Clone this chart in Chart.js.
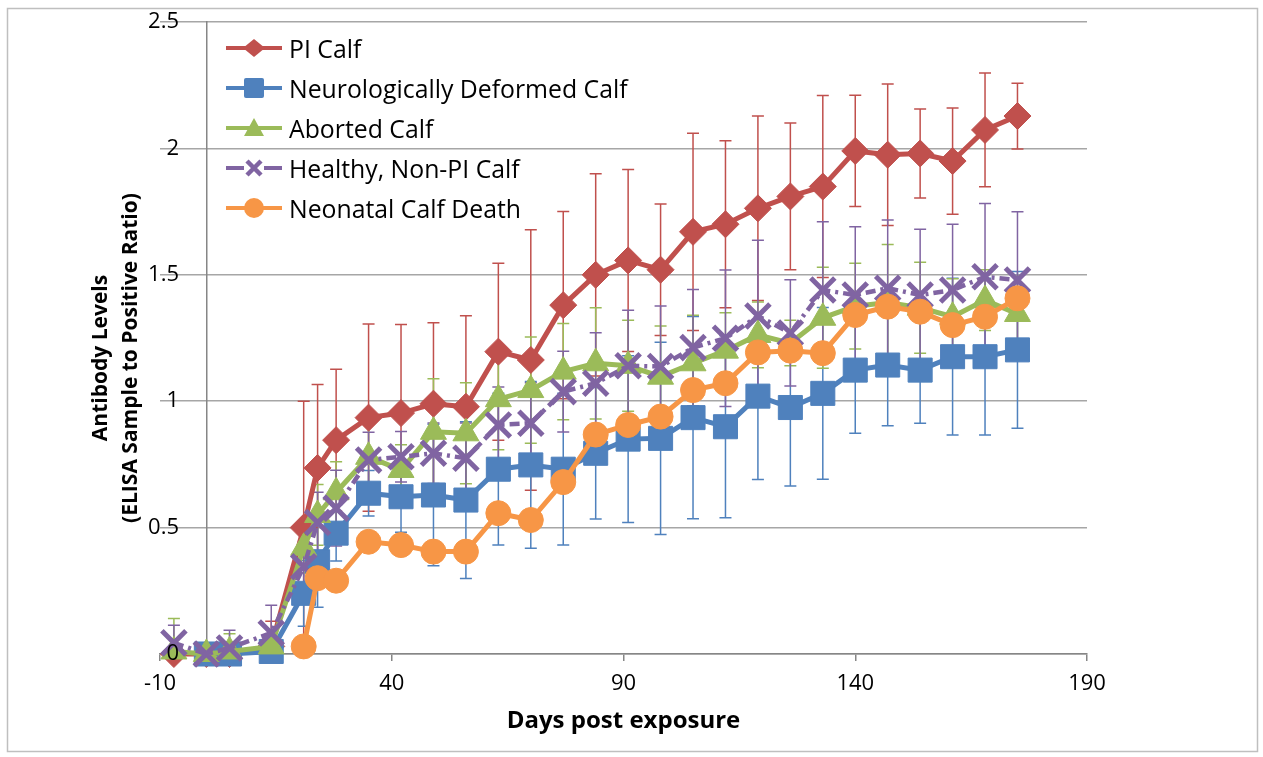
<!DOCTYPE html>
<html>
<head>
<meta charset="utf-8">
<script src="https://cdn.jsdelivr.net/npm/chart.js@4.4.1/dist/chart.umd.min.js"></script>
<style>
  html, body { margin: 0; padding: 0; background: #fff; }
  #wrap { position: relative; width: 1263px; height: 757px; }
  #legend { position: absolute; left: 224px; top: 28px; font-family: "Open Sans", sans-serif; font-size: 24.8px; color: #000; }
  .item { display: flex; align-items: center; height: 40px; white-space: nowrap; }
  .item svg { width: 60px; height: 30px; margin-right: 5px; }
</style>
</head>
<body>
<div id="wrap">
  <canvas id="chart"></canvas>
  <div id="legend"></div>
</div>
<script>
  // Sampling days (x values)
  const days = [-7, 0, 5, 14, 21, 24, 28, 35, 42, 49, 56, 63, 70, 77, 84, 91, 98, 105, 112, 119, 126, 133, 140, 147, 154, 161, 168, 175];

  // Series labels
  const seriesNames = ['PI Calf', 'Neurologically Deformed Calf', 'Aborted Calf', 'Healthy, Non-PI Calf', 'Neonatal Calf Death'];

  // Mean antibody levels (S/P ratio)
  const piCalf = [0, 0, 0, 0.03, 0.50, 0.736, 0.846, 0.935, 0.953, 0.99, 0.978, 1.196, 1.163, 1.38, 1.50, 1.557, 1.52, 1.67, 1.70, 1.763, 1.81, 1.849, 1.99, 1.975, 1.98, 1.95, 2.073, 2.128];
  const neuroCalf = [null, 0, 0, 0.01, 0.24, 0.365, 0.478, 0.636, 0.622, 0.629, 0.609, 0.731, 0.748, 0.731, 0.794, 0.85, 0.853, 0.935, 0.899, 1.02, 0.975, 1.031, 1.123, 1.143, 1.123, 1.176, 1.176, 1.203];
  const abortedCalf = [0.01, 0, 0.01, 0.03, 0.42, 0.55, 0.64, 0.78, 0.728, 0.879, 0.873, 1.008, 1.044, 1.117, 1.15, 1.14, 1.097, 1.15, 1.20, 1.262, 1.23, 1.33, 1.376, 1.39, 1.37, 1.334, 1.40, 1.345];
  const healthyCalf = [0.044, 0, 0.024, 0.083, 0.345, 0.52, 0.577, 0.767, 0.78, 0.794, 0.774, 0.906, 0.913, 1.038, 1.071, 1.14, 1.137, 1.212, 1.249, 1.337, 1.27, 1.44, 1.42, 1.447, 1.42, 1.44, 1.492, 1.479];
  const neonatalDeath = [null, null, null, null, 0.03, 0.30, 0.29, 0.444, 0.431, 0.405, 0.405, 0.557, 0.53, 0.68, 0.868, 0.906, 0.939, 1.044, 1.071, 1.193, 1.20, 1.19, 1.341, 1.374, 1.354, 1.301, 1.334, 1.407];

  // Error bar half-lengths (+/-)
  const piErr = [0, 0.04, 0.02, 0.10, 0.50, 0.33, 0.28, 0.37, 0.35, 0.32, 0.36, 0.35, 0.515, 0.37, 0.40, 0.36, 0.26, 0.39, 0.33, 0.365, 0.29, 0.36, 0.22, 0.28, 0.176, 0.21, 0.225, 0.13];
  const neuroErr = [0, 0.04, 0.02, 0.03, 0.13, 0.18, 0.11, 0.09, 0.14, 0.28, 0.31, 0.30, 0.33, 0.30, 0.26, 0.33, 0.38, 0.40, 0.36, 0.33, 0.31, 0.34, 0.25, 0.24, 0.21, 0.31, 0.31, 0.31];
  const abortedErr = [0.13, 0.02, 0.07, 0.04, 0.10, 0.12, 0.12, 0.17, 0.10, 0.21, 0.20, 0.20, 0.21, 0.19, 0.22, 0.18, 0.20, 0.19, 0.15, 0.13, 0.09, 0.20, 0.17, 0.23, 0.18, 0.15, 0.12, 0.15];
  const healthyErr = [0.07, 0.04, 0.07, 0.11, 0.10, 0.12, 0.15, 0.11, 0.10, 0.12, 0.14, 0.15, 0.16, 0.16, 0.20, 0.22, 0.24, 0.23, 0.27, 0.30, 0.21, 0.27, 0.27, 0.27, 0.26, 0.26, 0.29, 0.27];

  // Axis ticks
  const xTicks = [-10, 40, 90, 140, 190];
  const yTicks = [0, 0.5, 1, 1.5, 2, 2.5];

  const FONT = '"Open Sans", Lato, sans-serif';
  const colors = ['#C0504D', '#4F81BD', '#9BBB59', '#8064A2', '#F79646'];
  const styles = ['rectRot', 'rect', 'triangle', 'crossRot', 'circle'];
  const radii = [13.5, 17, 15, 17, 12.5];
  const values = [piCalf, neuroCalf, abortedCalf, healthyCalf, neonatalDeath];
  const errors = [piErr, neuroErr, abortedErr, healthyErr, null];

  function toPoints(arr) {
    return days.map((d, i) => ({ x: d, y: arr[i] }));
  }

  const datasets = seriesNames.map((name, i) => ({
    label: name,
    data: toPoints(values[i]),
    yAxisID: 'y',
    borderColor: colors[i],
    backgroundColor: colors[i],
    borderWidth: i === 3 ? 4.5 : 5,
    borderDash: i === 3 ? [10, 5, 3, 5] : [],
    pointStyle: styles[i],
    pointRadius: radii[i],
    pointBorderWidth: i === 3 ? 5 : 1,
    pointBorderColor: colors[i],
    pointBackgroundColor: colors[i],
    tension: 0,
    clip: false,
    order: 4 - i
  }));

  // Draw error bars behind the lines
  const errorBars = {
    id: 'errorBars',
    beforeDatasetsDraw(chart) {
      const { ctx, chartArea, scales: { x, y } } = chart;
      ctx.save();
      ctx.beginPath();
      ctx.rect(chartArea.left - 20, chartArea.top, chartArea.right - chartArea.left + 40, chartArea.bottom - chartArea.top);
      ctx.clip();
      errors.forEach((errArr, i) => {
        if (!errArr) return;
        ctx.strokeStyle = colors[i];
        ctx.lineWidth = 1.5;
        days.forEach((d, j) => {
          const v = values[i][j];
          const e = errArr[j];
          if (v === null || !e) return;
          const px = x.getPixelForValue(d);
          const top = y.getPixelForValue(v + e);
          const bot = y.getPixelForValue(v - e);
          ctx.beginPath();
          ctx.moveTo(px, top);
          ctx.lineTo(px, bot);
          ctx.moveTo(px - 6, top);
          ctx.lineTo(px + 6, top);
          ctx.moveTo(px - 6, bot);
          ctx.lineTo(px + 6, bot);
          ctx.stroke();
        });
      });
      ctx.restore();
    }
  };

  // Outer frame and rotated two-line y title
  const decorations = {
    id: 'decorations',
    afterDraw(chart) {
      const { ctx } = chart;
      ctx.save();
      ctx.strokeStyle = '#bfbfbf';
      ctx.lineWidth = 1.5;
      ctx.strokeRect(7.5, 8.5, 1250, 743);
      ctx.translate(116, 358);
      ctx.rotate(-Math.PI / 2);
      ctx.fillStyle = '#000';
      ctx.font = 'bold 21px ' + FONT;
      ctx.textAlign = 'center';
      ctx.textBaseline = 'middle';
      ctx.fillText('Antibody Levels', 0, -15);
      ctx.fillText('(ELISA Sample to Positive Ratio)', 0, 15);
      ctx.restore();
    }
  };

  const yRange = { min: yTicks[0], max: yTicks[yTicks.length - 1] };

  new Chart(document.getElementById('chart'), {
    type: 'line',
    data: { datasets },
    options: {
      responsive: true,
      maintainAspectRatio: false,
      animation: false,
      layout: { padding: { left: 160, top: 22, right: 176, bottom: 0 } },
      plugins: {
        legend: { display: false },
        tooltip: { enabled: false }
      },
      scales: {
        x: {
          type: 'linear',
          min: xTicks[0],
          max: xTicks[xTicks.length - 1],
          afterBuildTicks: s => { s.ticks = xTicks.map(v => ({ value: v })); },
          afterFit: s => { s.height = 103; },
          ticks: { color: '#000', font: { family: FONT, size: 22 }, padding: 10, callback: v => String(v) },
          grid: { drawOnChartArea: false, drawTicks: true, tickLength: 7, color: '#868686', lineWidth: 1.5 },
          border: { display: true, color: '#868686', width: 1.5 },
          title: {
            display: true,
            text: 'Days post exposure',
            color: '#000',
            font: { family: FONT, size: 24, weight: 'bold' },
            padding: { top: 0, bottom: 21 }
          }
        },
        // value axis: gridlines and the vertical line at x = 0
        y: {
          position: { x: 0 },
          ...yRange,
          afterBuildTicks: s => { s.ticks = yTicks.map(v => ({ value: v })); },
          ticks: { display: false },
          grid: { color: '#a6a6a6', lineWidth: 1.5, drawTicks: false },
          border: { display: true, color: '#868686', width: 1.5 }
        },
        // same range, only the tick labels (right edge a little left of the axis), drawn above the series
        yLabels: {
          type: 'linear',
          axis: 'y',
          position: { x: -5.9 },
          ...yRange,
          afterBuildTicks: s => { s.ticks = yTicks.map(v => ({ value: v })); },
          ticks: { color: '#000', font: { family: FONT, size: 22 }, padding: 0, z: 1, autoSkip: false, callback: v => String(v) },
          grid: { display: false },
          border: { display: false }
        }
      }
    },
    plugins: [errorBars, decorations]
  });

  // HTML legend built from the same series arrays
  function markerSvg(i) {
    const c = colors[i];
    const cx = 30, cy = 15;
    let m = '';
    if (styles[i] === 'rectRot') m = `<polygon points="${cx - 11},${cy} ${cx},${cy - 9} ${cx + 11},${cy} ${cx},${cy + 9}" fill="${c}"/>`;
    if (styles[i] === 'rect') m = `<rect x="${cx - 10}" y="${cy - 10}" width="20" height="20" rx="2" fill="${c}"/>`;
    if (styles[i] === 'triangle') m = `<polygon points="${cx - 10},${cy + 8} ${cx},${cy - 10} ${cx + 10},${cy + 8}" fill="${c}"/>`;
    if (styles[i] === 'crossRot') m = `<path d="M${cx - 7},${cy - 7} L${cx + 7},${cy + 7} M${cx + 7},${cy - 7} L${cx - 7},${cy + 7}" stroke="${c}" stroke-width="4.5"/>`;
    if (styles[i] === 'circle') m = `<circle cx="${cx}" cy="${cy}" r="10" fill="${c}"/>`;
    const line = i === 3
      ? `<line x1="2" y1="${cy}" x2="20" y2="${cy}" stroke="${c}" stroke-width="4"/><line x1="40" y1="${cy}" x2="58" y2="${cy}" stroke="${c}" stroke-width="4"/>`
      : `<line x1="2" y1="${cy}" x2="58" y2="${cy}" stroke="${c}" stroke-width="4"/>`;
    return `<svg viewBox="0 0 60 30">${line}${m}</svg>`;
  }

  document.getElementById('legend').innerHTML = seriesNames
    .map((n, i) => `<div class="item">${markerSvg(i)}<span>${n}</span></div>`)
    .join('');
</script>
</body>
</html>
